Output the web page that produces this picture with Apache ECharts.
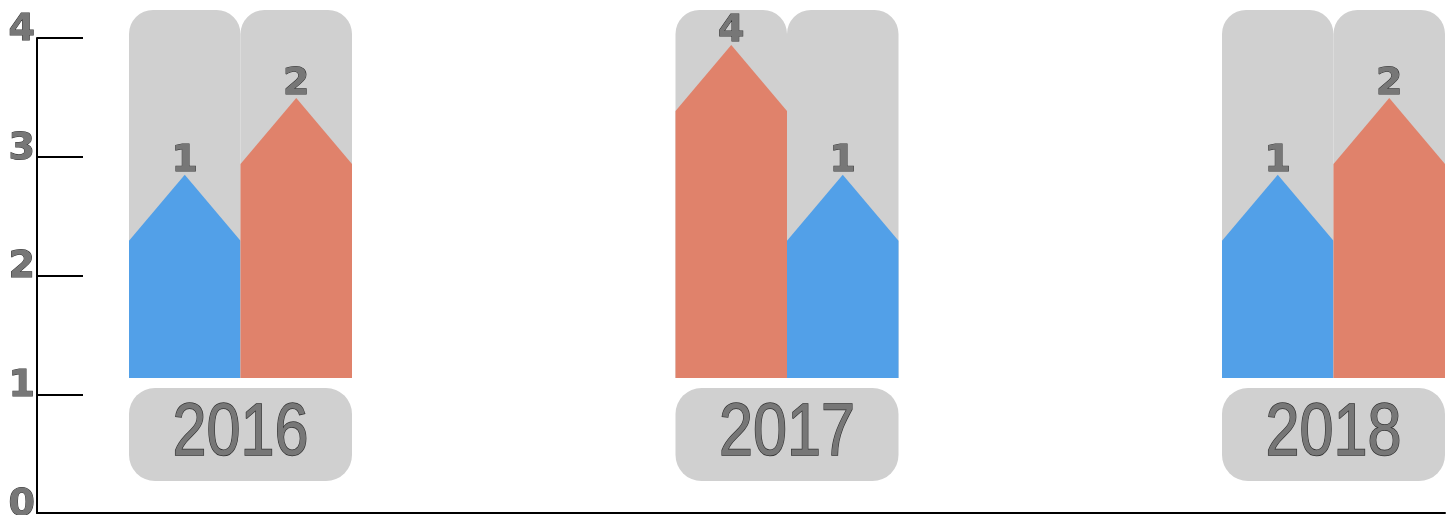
<!DOCTYPE html>
<html lang="en">
<head>
<meta charset="UTF-8">
<title>chart</title>
<script src="https://cdn.jsdelivr.net/npm/echarts@6/dist/echarts.min.js"></script>
<style>
html,body{margin:0;padding:0;background:#fff;}
#main{width:1453px;height:515px;}
</style>
</head>
<body>
<div id="main"></div>
<script type="text/javascript">
var years = ['2016', '2017', '2018'];
var leftValues = [1, 4, 1];
var rightValues = [2, 1, 2];
// tip height of each bar, % of the grey track
var leftHeights = [55.2, 90.5, 55.2];
var rightHeights = [76.1, 55.2, 76.1];
var yTicks = [0, 1, 2, 3, 4];

var BLUE = '#52a0e8', RED = '#e0826b', GREY = '#d0d0d0';
var BAR_W = 111.5, ARROW = 66;
var numFont = 'bold 38px "DejaVu Sans"';

function makeRender(side) {
	return function (params, api) {
		var i = params.dataIndex;
		var base = api.coord([i, 0]);
		var tip = api.coord([i, api.value(1)])[1];
		var trackTop = api.coord([i, 100])[1];
		var x = side === 'left' ? base[0] - BAR_W : base[0];
		var own = side === 'left' ? leftValues[i] : rightValues[i];
		var other = side === 'left' ? rightValues[i] : leftValues[i];
		var color = own > other ? RED : BLUE;
		return {
			type: 'group',
			children: [
				{
					type: 'rect',
					shape: {x: x, y: trackTop, width: BAR_W, height: base[1] - trackTop, r: [24, 24, 0, 0]},
					style: {fill: GREY}
				},
				{
					type: 'polygon',
					shape: {points: [[x, base[1]], [x, tip + ARROW], [x + BAR_W / 2, tip], [x + BAR_W, tip + ARROW], [x + BAR_W, base[1]]]},
					style: {fill: color}
				},
				{
					type: 'text',
					style: {
						text: String(api.value(2)), x: x + BAR_W / 2, y: tip - 14,
						align: 'center', verticalAlign: 'middle',
						font: numFont, fill: '#777', stroke: '#333', lineWidth: 1
					}
				}
			]
		};
	};
}

// year badge under each pair of bars
function renderYear(params, api) {
	var i = params.dataIndex;
	var base = api.coord([i, 0]);
	var top = base[1] + 10;
	return {
		type: 'group',
		children: [
			{
				type: 'rect',
				shape: {x: base[0] - BAR_W, y: top, width: BAR_W * 2, height: 93, r: 26},
				style: {fill: GREY}
			},
			{
				type: 'text',
				x: base[0], y: top + 46.5, scaleX: 0.826,
				style: {
					text: years[i], x: 0, y: 0, align: 'center', verticalAlign: 'middle',
					font: '74px "Liberation Sans"', fill: '#777', stroke: '#333', lineWidth: 1.5
				}
			}
		]
	};
}

var leftData = years.map(function (y, i) { return [i, leftHeights[i], leftValues[i]]; });
var rightData = years.map(function (y, i) { return [i, rightHeights[i], rightValues[i]]; });
var yearData = years.map(function (y, i) { return [i, 0]; });

var myChart = echarts.init(document.getElementById('main'));
var option = {
	animation: false,
	grid: [
		{left: 240.5, right: 119.5, top: 10, bottom: 137, outerBoundsMode: 'none'},
		{left: 37, right: 8, top: 38, bottom: 2, outerBoundsMode: 'none'}
	],
	xAxis: [
		{
			gridIndex: 0, type: 'category', data: years, boundaryGap: false,
			axisLine: {show: false}, axisTick: {show: false}, axisLabel: {show: false}
		},
		{
			gridIndex: 1, type: 'value', min: 0, max: 1,
			axisLine: {show: true, lineStyle: {color: '#000', width: 2}},
			axisTick: {show: false}, axisLabel: {show: false}, splitLine: {show: false}
		}
	],
	yAxis: [
		{gridIndex: 0, type: 'value', min: 0, max: 100, show: false},
		{
			gridIndex: 1, type: 'value', min: yTicks[0], max: yTicks[yTicks.length - 1], interval: 1,
			axisLine: {show: true, lineStyle: {color: '#000', width: 2}},
			axisTick: {show: true, inside: true, length: 46, lineStyle: {color: '#000', width: 2}},
			splitLine: {show: false},
			axisLabel: {
				margin: 2, fontSize: 38, fontWeight: 'bold', fontFamily: 'DejaVu Sans',
				color: '#777', textBorderColor: '#333', textBorderWidth: 1,
				verticalAlign: 'bottom', lineHeight: 16
			}
		}
	],
	series: [
		{type: 'custom', xAxisIndex: 0, yAxisIndex: 0, renderItem: makeRender('left'), data: leftData, encode: {x: 0, y: 1}},
		{type: 'custom', xAxisIndex: 0, yAxisIndex: 0, renderItem: makeRender('right'), data: rightData, encode: {x: 0, y: 1}},
		{type: 'custom', xAxisIndex: 0, yAxisIndex: 0, renderItem: renderYear, data: yearData, encode: {x: 0, y: 1}}
	]
};
myChart.setOption(option);
</script>
</body>
</html>
